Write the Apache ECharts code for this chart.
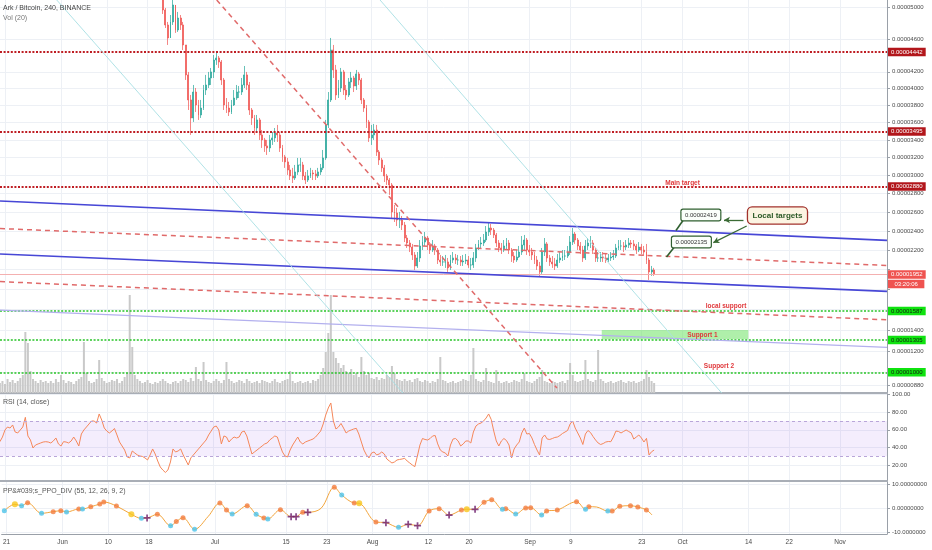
<!DOCTYPE html>
<html><head><meta charset="utf-8">
<script src="https://cdn.jsdelivr.net/npm/echarts@6/dist/echarts.min.js"></script>
<style>html,body{margin:0;padding:0;background:#fff}#c{width:932px;height:550px}</style>
</head><body><div id="c"></div>
<script>
// ---------------- DATA ----------------
const chartTitle = 'Ark / Bitcoin, 240, BINANCE';
const volTitle = 'Vol (20)';
const rsiTitle = 'RSI (14, close)';
const ppoTitle = 'PP&#039;s_PPO_DIV (55, 12, 26, 9, 2)';

const X_MIN = '2019-05-20 00:30';
const X_MAX = '2019-11-10 05:45';
const dateTicks  = ['2019-05-21','2019-06-01','2019-06-10','2019-06-18','2019-07-01','2019-07-15','2019-07-23','2019-08-01','2019-08-12','2019-08-20','2019-09-01','2019-09-09','2019-09-23','2019-10-01','2019-10-14','2019-10-22','2019-11-01'];
const dateLabels = ['21','Jun','10','18','Jul','15','23','Aug','12','20','Sep','9','23','Oct','14','22','Nov'];

// prices in satoshi (1e-8 BTC)
const PRICE_MIN = 809, PRICE_MAX = 5096;
const priceGridTicks  = [5000,4600,4200,4000,3800,3600,3400,3200,3000,2800,2600,2400,2200,2000,1800,1600,1400,1200,1000,880];
const priceLabelTicks = [5000,4600,4200,4000,3800,3600,3400,3200,3000,2800,2600,2400,2200,1400,1200,880];

const rsiTicks = [20,40,60,80,100];
const ppoTicks = [-10,0,10];
const ppoTickLabels = ['-10.0000000','0.00000000','10.00000000'];

// 12h bars
const SERIES_START = '2019-05-20 00:00';
const CANDLE_START = '2019-06-20 12:00';
const CANDLE_OPEN0 = 5300;
// [close, low, high]
const candleRows = [
[5150,5100,5350],[4968,4917,5160],[4778,4740,4994],[4615,4528,4816],[4816,4615,4904],[5032,4778,5120],[4715,4678,5032],[4866,4690,4943],[4778,4715,4904],[4528,4466,4816],
[4162,4101,4528],[3863,3745,4198],[3652,3456,3922],[3957,3606,4041],[3804,3722,4005],[3687,3629,3863],[3768,3652,3863],[3981,3745,4041],[4041,3922,4162],[4125,4005,4198],
[4198,4041,4246],[4343,4125,4404],[4368,4283,4429],[4319,4246,4392],[4101,4041,4343],[3804,3745,4125],[3768,3710,3886],[3722,3675,3839],[3804,3698,3863],[3886,3792,3981],
[3957,3863,4041],[3957,3886,4029],[4041,3922,4125],[4162,4005,4270],[4041,3981,4198],[3745,3687,4077],[3652,3571,3768],[3536,3456,3687],[3629,3490,3687],[3456,3399,3652],
[3399,3308,3513],[3331,3263,3422],[3308,3229,3399],[3399,3263,3456],[3422,3342,3490],[3479,3376,3536],[3456,3376,3571],[3308,3263,3490],[3207,3151,3342],[3151,3084,3229],
[3061,3006,3195],[2995,2950,3117],[2972,2917,3084],[3039,2950,3117],[3117,3006,3195],[3117,3039,3195],[2995,2950,3151],[2950,2906,3039],[2995,2928,3061],[3028,2972,3084],
[3017,2950,3061],[2995,2950,3061],[3039,2972,3084],[3084,3006,3128],[3195,3061,3285],[3571,3173,3629],[3863,3536,3957],[4466,3839,4615],[4222,4125,4528],[3922,3863,4283],
[4005,3886,4101],[4198,3957,4246],[3981,3922,4222],[3922,3863,4041],[4077,3898,4125],[4125,4005,4198],[4029,3957,4150],[4174,3981,4222],[4101,4041,4198],[3863,3815,4125],
[3768,3722,3886],[3606,3536,3804],[3422,3376,3629],[3456,3342,3571],[3513,3399,3583],[3263,3218,3571],[3173,3117,3285],[3084,3039,3195],[2995,2928,3117],[2950,2896,3017],
[2896,2787,2972],[2603,2539,2917],[2592,2496,2678],[2517,2453,2646],[2517,2432,2603],[2464,2411,2560],[2327,2285,2496],[2275,2223,2359],[2233,2181,2306],[2151,2099,2265],
[2038,1997,2181],[2120,2018,2181],[2244,2079,2306],[2285,2202,2348],[2327,2244,2390],[2254,2202,2348],[2202,2161,2285],[2244,2181,2306],[2202,2151,2265],[2099,2058,2223],
[2079,2038,2151],[2079,2038,2140],[2079,2018,2151],[2018,1977,2120],[2099,1997,2151],[2120,2069,2181],[2099,2058,2161],[2099,2048,2151],[2079,2038,2140],[2089,2038,2151],
[2099,2058,2161],[2048,2018,2140],[2048,1997,2120],[2120,2018,2181],[2223,2079,2265],[2265,2202,2306],[2275,2223,2338],[2306,2244,2369],[2390,2285,2453],[2432,2348,2485],
[2411,2359,2475],[2359,2327,2432],[2275,2233,2380],[2223,2181,2306],[2202,2161,2275],[2244,2181,2306],[2275,2202,2327],[2202,2161,2306],[2140,2079,2223],[2099,2069,2181],
[2130,2079,2202],[2181,2120,2244],[2254,2151,2348],[2306,2202,2359],[2202,2151,2327],[2181,2140,2254],[2151,2099,2223],[2099,2058,2181],[2038,1997,2140],[1977,1937,2079],
[2181,1957,2223],[2265,2140,2327],[2120,2079,2285],[2079,2038,2151],[2058,2018,2140],[2038,1997,2120],[2099,2018,2161],[2120,2069,2181],[2140,2089,2202],[2140,2099,2202],
[2181,2120,2244],[2285,2151,2348],[2369,2254,2432],[2306,2265,2390],[2244,2202,2327],[2202,2161,2285],[2120,2079,2244],[2244,2099,2306],[2275,2202,2327],[2275,2223,2348],
[2202,2161,2306],[2120,2079,2223],[2120,2079,2181],[2130,2079,2181],[2120,2079,2181],[2099,2069,2161],[2120,2079,2161],[2130,2089,2181],[2140,2099,2202],[2223,2120,2265],
[2244,2202,2306],[2244,2202,2306],[2233,2181,2285],[2254,2202,2306],[2275,2223,2327],[2265,2223,2306],[2244,2202,2306],[2202,2161,2265],[2233,2181,2285],[2202,2161,2265],
[2181,2140,2244],[2099,2058,2265],[1977,1896,2120],[1997,1937,2038],[1952,1937,2018]
];

const volume = [
10,12,9,14,11,13,10,12,15,18, 61,50,22,14,12,10,13,11,12,10, 12,10,14,11,18,13,10,12,11,9,
12,14,16,51,20,12,10,11,14,33, 15,12,10,11,13,12,14,10,12,16, 20,98,46,18,14,12,10,11,13,10,
9,11,10,12,14,12,10,9,11,12, 10,12,14,13,11,15,12,26,14,12, 31,13,11,10,12,14,12,10,13,31,
14,12,10,11,13,12,10,14,12,10, 11,12,10,13,12,11,10,12,14,11, 10,12,13,14,22,12,10,11,12,10,
11,12,10,13,12,14,18,25,41,60, 98,41,35,30,25,28,22,20,24,18, 20,16,36,22,18,20,15,14,16,13,
15,14,18,16,27,20,14,13,12,14, 12,13,11,14,15,12,11,13,12,10, 12,11,14,36,13,12,10,11,12,10,
11,12,14,13,12,18,45,14,12,11, 13,25,12,11,10,23,12,10,11,12, 10,11,13,12,11,14,20,12,11,10,
12,14,16,23,12,11,10,12,11,10, 11,12,10,13,30,18,12,11,12,13, 33,14,12,11,13,43,14,12,10,11,
12,10,11,12,13,11,10,12,11,12, 10,11,12,14,23,16,12,10
];

const rsi = [
46.5,51.8,59.8,63.2,62.0,65.5,57.5,56.4,59.8,63.2, 74.2,53.0,48.4,39.3,42.7,43.9,45.0,46.1,46.5,46.1,
45.0,47.3,50.7,43.9,41.6,46.5,46.1,45.0,47.3,51.8, 47.3,41.6,55.2,59.8,63.2,66.6,70.0,70.0,67.7,78.0,
71.1,62.0,58.6,56.4,58.6,61.5,54.1,46.1,41.6,37.0, 29.1,28.0,35.9,33.6,31.4,30.2,29.7,28.0,25.7,31.4,
38.2,32.5,24.5,17.7,14.3,11.5,14.3,23.4,38.2,34.8, 35.9,38.2,31.4,25.7,20.0,28.0,31.4,34.8,38.2,41.6,
45.0,48.4,54.1,58.6,63.2,64.3,59.8,43.9,53.0,51.8, 46.1,49.5,51.8,50.7,51.8,57.5,58.6,53.0,42.7,32.5,
34.8,37.0,39.3,41.6,43.9,45.0,48.4,50.7,53.0,51.8, 42.7,34.8,30.2,29.1,37.0,42.7,47.3,51.8,46.1,43.9,
46.1,47.3,48.4,49.5,51.8,55.2,58.6,66.6,76.8,84.8, 90.5,70.0,60.9,63.2,67.2,62.0,56.4,58.6,59.8,60.9,
61.7,55.2,46.1,37.0,31.4,28.0,33.6,34.8,31.4,32.5, 34.8,32.5,26.8,24.5,22.3,23.4,25.7,26.3,26.8,27.6,
24.5,22.3,20.0,18.1,30.2,42.7,50.1,49.0,48.4,50.1, 53.0,53.5,43.9,37.0,34.8,33.6,30.2,42.7,49.5,50.1,
47.3,41.6,43.9,47.3,47.3,45.0,57.5,64.3,66.6,67.7, 70.0,73.4,78.0,71.7,58.6,47.3,41.6,47.3,50.1,47.8,
42.7,28.0,38.2,42.7,46.1,56.4,62.0,55.2,55.8,50.7, 43.3,37.0,31.4,50.7,54.1,49.5,49.0,50.1,51.3,51.8,
53.5,55.8,57.5,59.2,66.6,70.0,62.0,56.4,50.7,43.3, 55.2,59.2,56.9,52.4,48.4,45.0,43.3,44.4,46.1,46.7,
46.5,51.8,58.6,58.1,56.4,58.1,59.8,58.1,56.4,49.5, 51.8,54.1,50.7,46.1,50.3,31.4,35.1,37.0
];

// PPO: [days after SERIES_START, value]
const ppoPoints = [
[0.55,-1.0],[2.63,1.65],[3.95,1.07],[5.13,2.3],[7.88,-2.07],[10.17,-1.4],[11.67,-1.0],[12.79,-1.53],[15.2,-0.3],[15.93,-0.29],
[17.56,0.66],[19.33,1.78],[20.11,2.6],[22.61,0.95],[25.55,-2.48],[27.52,-4.13],[28.64,-4.0],[30.66,-2.48],[33.27,-7.2],[34.39,-5.5],
[35.71,-3.87],[37.99,-8.68],[40.62,-3.47],[42.97,2.19],[44.27,-0.7],[45.39,-2.36],[48.34,1.07],[50.1,-2.48],[51.62,-4.0],[52.4,-4.4],
[54.88,-0.58],[56.98,-3.47],[57.96,-3.47],[59.28,-1.65],[60.26,-1.65],[62.87,0.0],[65.48,8.68],[66.94,5.5],[69.41,2.19],[70.39,2.07],
[73.67,-5.66],[75.64,-5.95],[78.13,-7.85],[80.02,-6.6],[81.86,-7.2],[84.14,-1.12],[86.11,-0.17],[88.07,-2.77],[90.5,-0.7],[91.55,-0.4],
[93.18,-0.4],[94.95,2.48],[96.46,3.55],[98.56,-0.4],[99.21,-0.17],[101.17,-2.36],[103.14,0.12],[104.12,0.25],[106.28,-2.77],[107.26,-1.12],
[109.36,-0.7],[113.15,2.73],[114.92,-0.4],[115.57,0.66],[117.08,0.54],[119.3,-1.12],[120.16,-1.12],[121.66,0.83],[123.76,1.07],[125.2,0.54],
[126.9,-0.7],[128.02,-2.77]
];
const ppoOrange = [3,5,6,8,10,11,12,13,17,19,20,23,24,26,28,30,33,36,38,40,45,46,48,51,52,54,56,57,59,60,61,63,66,67,68,69,70];
const ppoCyan   = [0,2,4,7,9,15,18,21,25,27,29,37,42,53,55,58,62,65];
const ppoYellow = [1,14,39,49];
const ppoCross  = [16,31,32,34,41,43,44,47,50];

// horizontal levels
const redLevels = [4442, 3495, 2880];
const greenLevels = [1587, 1305, 1000];
const lastPrice = 1952;
const countdownText = '03:20:06';
const countdownAnchor = 1856;

// drawings: [time, sat] endpoints
const trendLines = [
  {kind:'blue',     from:[X_MIN,2721], to:[X_MAX,2302]},
  {kind:'blue',     from:[X_MIN,2161], to:[X_MAX,1781]},
  {kind:'lavender', from:[X_MIN,1596], to:[X_MAX,1235]},
  {kind:'reddash',  from:[X_MIN,2427], to:[X_MAX,2043]},
  {kind:'reddash',  from:[X_MIN,1879], to:[X_MAX,1500]},
  {kind:'reddash',  from:['2019-07-01 14:00',PRICE_MAX], to:['2019-09-06 10:00',854]},
  {kind:'cyan',     from:['2019-05-31 04:00',PRICE_MAX], to:['2019-08-07 04:00',PRICE_MIN]},
  {kind:'cyan',     from:['2019-08-02 16:00',PRICE_MAX], to:['2019-10-08 18:30',PRICE_MIN]}
];
const pointers = [
  {from:['2019-10-01 04:00',2512], to:['2019-09-29 19:00',2406]},
  {from:['2019-09-29 09:40',2228], to:['2019-09-27 22:20',2130]}
];
const arrows = [
  {from:['2019-10-13 01:10',2517], to:['2019-10-09 05:20',2517]},
  {from:['2019-10-13 16:20',2453], to:['2019-10-07 03:00',2278]}
];
const textNotes = [
  {text:'Main target',   at:['2019-10-01 02:00',2914]},
  {text:'local support', at:['2019-10-09 15:00',1629]},
  {text:'Support 1',     at:['2019-10-05 00:00',1353]},
  {text:'Support 2',     at:['2019-10-08 06:00',1061]}
];
const valueBoxes = [
  {text:'0.00002419', at:['2019-10-04 16:20',2571]},
  {text:'0.00002135', at:['2019-10-02 19:40',2285]}
];
const targetsBox = {text:'Local targets', at:['2019-10-19 17:30',2565]};
const supportZone = {from:['2019-09-15 05:00',1401], to:['2019-10-14 00:00',1312]};

// ---------------- HELPERS ----------------
const H12 = 12*3600*1000, DAY = 86400000;
function ts(s){ const [d,t='00:00'] = s.split(' '); const [Y,M,D] = d.split('-').map(Number); const [h,m] = t.split(':').map(Number); return Date.UTC(Y,M-1,D,h,m); }
function P(sat){ return Math.log(sat/100 + 97); }         // price-axis scale
function invP(v){ return (Math.exp(v) - 97)*100; }
function fmt(sat){ return (sat*1e-8).toFixed(8); }
const FONT = 'Liberation Sans, Arial, sans-serif';

const dateTickTs = dateTicks.map(d => ts(d));
const t0 = ts(SERIES_START), tc = ts(CANDLE_START);

let prev = CANDLE_OPEN0;
const candleData = candleRows.map((r,k) => {
  const [c,l,h] = r; const o = prev; prev = c;
  return [tc + k*H12, P(o), P(c), P(Math.min(l,o,c)), P(Math.max(h,o,c))];
});
const volData = volume.map((v,k) => [t0 + k*H12, v]);
const rsiData = rsi.map((v,k) => [t0 + k*H12, v]);
const ppoData = ppoPoints.map(p => [t0 + p[0]*DAY, p[1]]);
const pick = idx => idx.map(i => ppoData[i]);

// ---------------- AXES ----------------
const gridColor = '#edf0f5';
function xAx(gi, opts){
  return Object.assign({
    type:'value', gridIndex: gi, min: ts(X_MIN), max: ts(X_MAX),
    axisLine:{show:false}, axisTick:{show:false, customValues: dateTickTs},
    splitLine:{show:true, lineStyle:{color:gridColor, width:1}},
    axisLabel:{show:false}
  }, opts || {});
}
const sepLine = {show:true, onZero:false, lineStyle:{color:'#a9aeb6', width:2}};

const priceColors = {
  blue:{color:'#4747d6', width:1.6, type:'solid'},
  lavender:{color:'#b3b0ee', width:1.2, type:'solid'},
  reddash:{color:'#e06a6a', width:1.5, type:[5,4]},
  cyan:{color:'#a7dfe3', width:0.9, type:'solid'}
};

const mlData = [];
redLevels.forEach(s => mlData.push({
  yAxis: P(s), lineStyle:{color:'#bf1e24', width:2, type:[2,1.6]},
  label:{show:true, position:'end', distance:1, formatter: fmt(s), color:'#fff', backgroundColor:'#b2161b', padding:[1.5,3,1,3], fontSize:6, fontFamily:FONT}
}));
greenLevels.forEach(s => mlData.push({
  yAxis: P(s), lineStyle:{color:'#27c427', width:1.6, type:[2,1.6]},
  label:{show:true, position:'end', distance:1, formatter: fmt(s), color:'#102010', backgroundColor:'#0fe30f', padding:[1.5,3,1,3], fontSize:6, fontFamily:FONT}
}));
mlData.push({
  yAxis: P(lastPrice), lineStyle:{color:'#f4b0b0', width:1, type:'solid'},
  label:{show:true, position:'end', distance:1, formatter: fmt(lastPrice), color:'#fff', backgroundColor:'#ef5350', padding:[1.5,3,1,3], fontSize:6, fontFamily:FONT}
});
mlData.push({
  yAxis: P(countdownAnchor), lineStyle:{color:'rgba(255,255,255,0)', width:0.1, type:'solid'},
  label:{show:true, position:'end', distance:1, formatter: countdownText, color:'#ffffff', backgroundColor:'#ef5350', padding:[1.5,6.5,1,6.5], fontSize:6, fontFamily:FONT}
});
trendLines.forEach(t => mlData.push([
  {coord:[ts(t.from[0]), P(t.from[1])], lineStyle: priceColors[t.kind], label:{show:false}},
  {coord:[ts(t.to[0]), P(t.to[1])]}
]));
pointers.forEach(t => mlData.push([
  {coord:[ts(t.from[0]), P(t.from[1])], lineStyle:{color:'#2f5f2f', width:1.6, type:'solid'}, label:{show:false}},
  {coord:[ts(t.to[0]), P(t.to[1])]}
]));
arrows.forEach(t => mlData.push([
  {coord:[ts(t.from[0]), P(t.from[1])], lineStyle:{color:'#3b6b35', width:1.3, type:'solid'}, label:{show:false}, symbol:'none'},
  {coord:[ts(t.to[0]), P(t.to[1])], symbol:'arrow', symbolSize:[5,6]}
]));

const mpData = [];
textNotes.forEach(n => mpData.push({
  coord:[ts(n.at[0]), P(n.at[1])], symbol:'rect', symbolSize:1, itemStyle:{color:'rgba(0,0,0,0)'},
  label:{show:true, position:'inside', formatter:n.text, color:'#e0393c', fontSize:6.5, fontWeight:'bold', fontFamily:FONT}
}));
valueBoxes.forEach(n => mpData.push({
  coord:[ts(n.at[0]), P(n.at[1])], symbol:'rect', symbolSize:1, itemStyle:{color:'rgba(0,0,0,0)'},
  label:{show:true, position:'inside', formatter:n.text, color:'#333', fontSize:6, fontFamily:FONT,
    backgroundColor:'#fbfffb', borderColor:'#2f5f2f', borderWidth:1.2, borderRadius:1.5, padding:[2.5,3.5,2,3.5]}
}));
mpData.push({
  coord:[ts(targetsBox.at[0]), P(targetsBox.at[1])], symbol:'rect', symbolSize:1, itemStyle:{color:'rgba(0,0,0,0)'},
  label:{show:true, position:'inside', formatter:targetsBox.text, color:'#2d5a27', fontSize:8, fontWeight:'bold', fontFamily:FONT,
    backgroundColor:'#fcf4e2', borderColor:'#a2322c', borderWidth:1.3, borderRadius:4, padding:[4.5,4.5,3.5,4.5]}
});

const axisLabelStyle = {color:'#4a4a4a', fontSize:6, fontFamily:FONT, margin:5};
const crossPath = 'path://M3,0H5V3H8V5H5V8H3V5H0V3H3Z';

const option = {
  animation:false,
  backgroundColor:'#ffffff',
  title:[
    {text:chartTitle, left:3, top:5, padding:0, textStyle:{fontSize:7, color:'#444', fontWeight:'normal', fontFamily:FONT}},
    {text:volTitle, left:3, top:14.5, padding:0, textStyle:{fontSize:7, color:'#777', fontWeight:'normal', fontFamily:FONT}},
    {text:rsiTitle, left:3, top:399, padding:0, textStyle:{fontSize:7, color:'#555', fontWeight:'normal', fontFamily:FONT}},
    {text:ppoTitle, left:3, top:488, padding:0, textStyle:{fontSize:7, color:'#555', fontWeight:'normal', fontFamily:FONT}}
  ],
  grid:[
    {left:0, right:45, top:0, height:393},
    {left:0, right:45, top:293, height:100},
    {left:0, right:45, top:394, height:87},
    {left:0, right:45, top:482, height:52}
  ],
  xAxis:[
    xAx(0, {axisLine: sepLine}),
    xAx(1, {splitLine:{show:false}}),
    xAx(2, {axisLine: sepLine}),
    xAx(3, {axisLine:{show:true, onZero:false, lineStyle:{color:'#9aa0a8', width:1}},
      axisLabel:{show:true, customValues: dateTickTs, color:'#4a4a4a', fontSize:6.5, fontFamily:FONT, margin:5,
        formatter: v => { const i = dateTickTs.indexOf(v); return i >= 0 ? dateLabels[i] : ''; }}})
  ],
  yAxis:[
    {type:'value', gridIndex:0, position:'right', min:P(PRICE_MIN), max:P(PRICE_MAX), scale:true,
      axisLine:{show:true, lineStyle:{color:'#9aa0a8'}},
      axisTick:{show:true, length:3, customValues: priceGridTicks.map(P), lineStyle:{color:'#9aa0a8'}},
      splitLine:{show:true, lineStyle:{color:gridColor}},
      axisLabel:Object.assign({customValues: priceLabelTicks.map(P), formatter: v => fmt(Math.round(invP(v)))}, axisLabelStyle)},
    {type:'value', gridIndex:1, min:0, max:100, show:false},
    {type:'value', gridIndex:2, position:'right', min:1.8, max:100.7,
      axisLine:{show:true, lineStyle:{color:'#9aa0a8'}},
      axisTick:{show:true, length:3, customValues: rsiTicks, lineStyle:{color:'#9aa0a8'}},
      splitLine:{show:true, lineStyle:{color:gridColor}},
      axisLabel:Object.assign({customValues: rsiTicks, formatter: v => Number(v).toFixed(2)}, axisLabelStyle)},
    {type:'value', gridIndex:3, position:'right', min:-10.62, max:10.87,
      axisLine:{show:true, lineStyle:{color:'#9aa0a8'}},
      axisTick:{show:true, length:3, customValues: ppoTicks, lineStyle:{color:'#9aa0a8'}},
      splitLine:{show:true, lineStyle:{color:gridColor}},
      axisLabel:Object.assign({customValues: ppoTicks, formatter: v => { const i = ppoTicks.indexOf(v); return i >= 0 ? ppoTickLabels[i] : ''; }}, axisLabelStyle)}
  ],
  series:[
    {type:'bar', xAxisIndex:1, yAxisIndex:1, data:volData, barWidth:2, itemStyle:{color:'#c9c9c9'}, silent:true, z:1},
    {type:'candlestick', xAxisIndex:0, yAxisIndex:0, data:candleData, barWidth:1.4, z:3, silent:true,
      itemStyle:{color:'#26a69a', color0:'#ef5350', borderColor:'#26a69a', borderColor0:'#ef5350', borderWidth:0.7},
      markArea:{silent:true, data:[[
        {coord:[ts(supportZone.from[0]), P(supportZone.from[1])], itemStyle:{color:'rgba(110,226,100,0.55)'}},
        {coord:[ts(supportZone.to[0]), P(supportZone.to[1])]}
      ]]},
      markLine:{silent:true, symbol:['none','none'], animation:false, precision:10, data:mlData},
      markPoint:{silent:true, animation:false, data:mpData}
    },
    {type:'line', xAxisIndex:2, yAxisIndex:2, data:rsiData, showSymbol:false, silent:true, z:3,
      lineStyle:{color:'#f5875a', width:1},
      markArea:{silent:true, data:[[{yAxis:30, itemStyle:{color:'rgba(150,80,235,0.10)'}},{yAxis:70}]]},
      markLine:{silent:true, symbol:['none','none'], label:{show:false},
        lineStyle:{color:'#b9a6d9', type:[3,3], width:1},
        data:[{yAxis:70},{yAxis:30}]}
    },
    {type:'line', xAxisIndex:3, yAxisIndex:3, data:ppoData, smooth:0.35, showSymbol:false, silent:true, z:2,
      lineStyle:{color:'#f3a53c', width:1}},
    {type:'scatter', xAxisIndex:3, yAxisIndex:3, data:pick(ppoOrange), symbolSize:5, silent:true, z:4, itemStyle:{color:'#f37d3f'}},
    {type:'scatter', xAxisIndex:3, yAxisIndex:3, data:pick(ppoCyan), symbolSize:5, silent:true, z:4, itemStyle:{color:'#4cc3ea'}},
    {type:'scatter', xAxisIndex:3, yAxisIndex:3, data:pick(ppoYellow), symbolSize:6, silent:true, z:4, itemStyle:{color:'#f8c61d'}},
    {type:'scatter', xAxisIndex:3, yAxisIndex:3, data:pick(ppoCross), symbol:crossPath, symbolSize:7, silent:true, z:5, itemStyle:{color:'#6e1f6e'}}
  ]
};

const chart = echarts.init(document.getElementById('c'), null, {renderer:'canvas'});
chart.setOption(option);
</script>
</body></html>
